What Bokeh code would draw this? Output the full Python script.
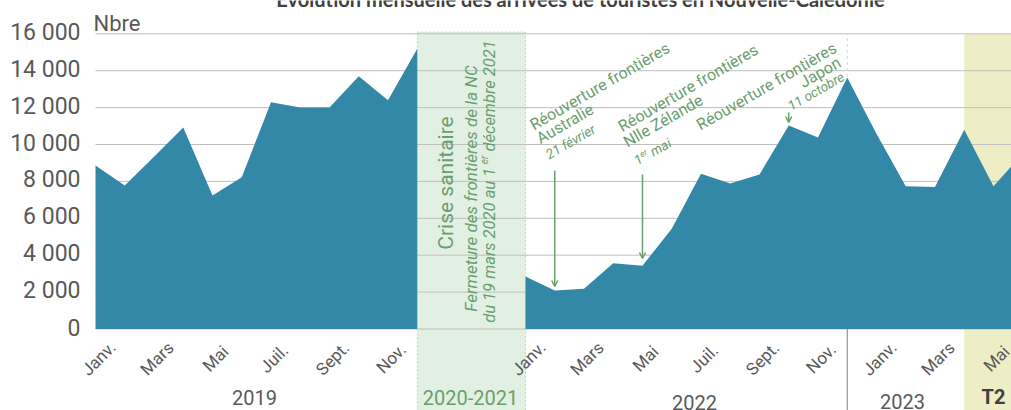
import math
from bokeh.plotting import figure
from bokeh.models import Arrow, OpenHead
from bokeh.core.properties import value
from bokeh.embed import file_html
from bokeh.resources import INLINE

# ---------------- data ----------------
TITLE = "Évolution mensuelle des arrivées de touristes en Nouvelle-Calédonie"
MONTHS = ["Janv.", "Févr.", "Mars", "Avr.", "Mai", "Juin",
          "Juil.", "Août", "Sept.", "Oct.", "Nov.", "Déc."]
ARRIVALS_2019 = [8860, 7780, 9340, 10920, 7240, 8230,
                 12290, 12000, 12000, 13700, 12400, 15190]
ARRIVALS_2022 = [2850, 2090, 2180, 3570, 3430, 5430,
                 8410, 7890, 8370, 11030, 10380, 13630]
ARRIVALS_2023 = [10580, 7740, 7690, 10800, 7740, 9500]
Y_TICKS = [0, 2000, 4000, 6000, 8000, 10000, 12000, 14000, 16000]
Y_TICK_LABELS = ["0", "2 000", "4 000", "6 000", "8 000",
                 "10 000", "12 000", "14 000", "16 000"]
YEAR_LABELS = ["2019", "2020-2021", "2022", "2023", "T2"]

# ---------------- layout / style ----------------
W, H = 1011, 410
PLOT_LEFT = 95            # pixel where the first month sits
PX_PER_MONTH = 29.25
Y0_PX = 328.5
PX_PER_TOURIST = 0.01845
CRISIS_GAP = 3.7          # width of the crisis box, in months

FONT = "Roboto"
AREA = "#3388A7"
GREEN = "#6A9E6E"
GREY_TXT = "#595959"
GRID = "#BFBFBF"


def px_x(px):
    return (px - PLOT_LEFT) / PX_PER_MONTH


def px_y(py):
    return (Y0_PX - py) / PX_PER_TOURIST


x2019 = list(range(len(ARRIVALS_2019)))
x2022 = [x2019[-1] + CRISIS_GAP + i for i in range(len(ARRIVALS_2022))]
x2023 = [x2022[-1] + 1 + i for i in range(len(ARRIVALS_2023))]

p = figure(width=W, height=H, x_range=(px_x(0), px_x(W)), y_range=(px_y(H), px_y(0)),
           x_axis_type=None, y_axis_type=None, output_backend="svg",
           toolbar_location=None, min_border=0)
p.outline_line_color = None
p.background_fill_color = "white"
p.border_fill_color = "white"
p.grid.visible = False


def txt(s, px, py, size, style="normal", angle=0.0, align="left", color=GREEN, font=FONT):
    p.text(x=[px_x(px)], y=[px_y(py)], text=[s], angle=angle, text_align=align,
           text_baseline="middle", text_font=value(font), text_font_size=f"{size}px",
           text_font_style=style, text_color=color)


# background boxes
p.quad(left=[x2019[-1]], right=[x2022[0]], bottom=[px_y(H + 5)], top=[px_y(31.5)],
       fill_color="#E2F0E3", line_color="#BCDABF", line_dash="2 2", line_width=1)
p.quad(left=[x2023[3]], right=[px_x(W + 5)], bottom=[px_y(H + 5)], top=[Y_TICKS[-1]],
       fill_color="#EDEEC5", line_color=None)

# gridlines
p.segment(x0=[x2019[0]] * len(Y_TICKS), x1=[px_x(W + 5)] * len(Y_TICKS),
          y0=Y_TICKS, y1=Y_TICKS, line_color=GRID, line_width=1)

# y tick labels
p.text(x=[px_x(80)] * len(Y_TICKS), y=Y_TICKS, text=Y_TICK_LABELS,
       text_align="right", text_baseline="middle", text_font=value(FONT),
       text_font_size="23px", text_color=GREY_TXT, y_offset=-1.5)

# year separator 2022 / 2023
p.segment(x0=[x2022[-1]], x1=[x2022[-1]], y0=[0], y1=[Y_TICKS[-1]],
          line_color="#D6D6D6", line_dash="3 3", line_width=1)
p.segment(x0=[x2022[-1]], x1=[x2022[-1]], y0=[0], y1=[px_y(H + 5)],
          line_color="#808080", line_width=1)

# areas
p.varea(x=x2019, y1=[0] * len(x2019), y2=ARRIVALS_2019, fill_color=AREA)
p.varea(x=x2022 + x2023, y1=[0] * (len(x2022) + len(x2023)),
        y2=ARRIVALS_2022 + ARRIVALS_2023, fill_color=AREA)

# month labels
MONTH_DX = 3 / PX_PER_MONTH
mx, mt = [], []
for xs in (x2019, x2022, x2023):
    for i in range(0, len(xs), 2):
        mx.append(xs[i] + MONTH_DX)
        mt.append(MONTHS[i])
p.text(x=mx, y=[px_y(358)] * len(mx), text=mt, angle=math.pi / 4,
       text_align="center", text_baseline="middle", text_font=value(FONT),
       text_font_size="17px", text_color=GREY_TXT)

# year / group labels
YEAR_PX = [(254, 397), (470, 397), (694, 401.5), (902, 400.5), (993, 396.5)]
YEAR_COL = [GREY_TXT, GREEN, GREY_TXT, GREY_TXT, "#404040"]
YEAR_STY = ["normal", "normal", "normal", "normal", "bold"]
for lab, (px, py), col, sty in zip(YEAR_LABELS, YEAR_PX, YEAR_COL, YEAR_STY):
    txt(lab, px, py, 20, sty, align="center", color=col)

# title and unit
txt(TITLE, 580, -1.5, 20, "bold", align="center", color="#404040", font="Lato")
txt("Nbre", 93, 22.5, 22, color=GREY_TXT)

# crisis box texts (vertical)
V = math.pi / 2
txt("Crise sanitaire", 445, 182.5, 21, angle=V, align="center")
txt("Fermeture des frontières de la NC", 470.5, 188, 17, "italic", angle=V, align="center")
S = 322.3
wA, wB, wS = 158.6, 8.6, 4.1
txt("du 19 mars 2020 au 1", 489, S, 16.5, "italic", angle=V)
txt("er", 489 - 5, S - wA, 10, "italic", angle=V)
txt("décembre 2021", 489, S - wA - wB - wS, 16.5, "italic", angle=V)

# reopening annotations (rotated 30°)
A = math.radians(30)
ux, uy = math.cos(A), -math.sin(A)
nx, ny = -math.sin(A), -math.cos(A)


def ann(s, bx, by, size, style="normal"):
    c = 0.33 * size
    txt(s, bx + c * nx, by + c * ny, size, style, angle=A)


ann("Réouverture frontières", 533.3, 130, 16)
ann("Australie", 540, 143.5, 16)
ann("21 février", 548.5, 158.5, 13.5, "italic")

ann("Réouverture frontières", 621.7, 131.7, 16)
ann("Nlle Zélande", 627, 147, 16)
sx, sy = 637, 165
w1, we, ws = 7.6, 7.3, 3.3
ann("1", sx, sy, 13.5, "italic")
ann("er", sx + w1 * ux + 5 * nx, sy + w1 * uy + 5 * ny, 8.5, "italic")
ann("mai", sx + (w1 + we + ws) * ux, sy + (w1 + we + ws) * uy, 13.5, "italic")

ann("Réouverture frontières", 700, 130, 16)
ann("Japon", 803, 87.5, 16)
ann("11 octobre", 790.5, 110, 13.5, "italic")

# arrows
ARROW_PX = [(170, 286), (174, 258), (112, 122)]
for (xi, (y0p, y1p)) in zip([x2022[1], x2022[4], x2022[9]], ARROW_PX):
    p.add_layout(Arrow(end=OpenHead(size=6, line_color=GREEN, line_width=1.5),
                       x_start=xi, y_start=px_y(y0p), x_end=xi, y_end=px_y(y1p),
                       line_color=GREEN, line_width=1.5))

open("out.html", "w").write(file_html(p, INLINE))
